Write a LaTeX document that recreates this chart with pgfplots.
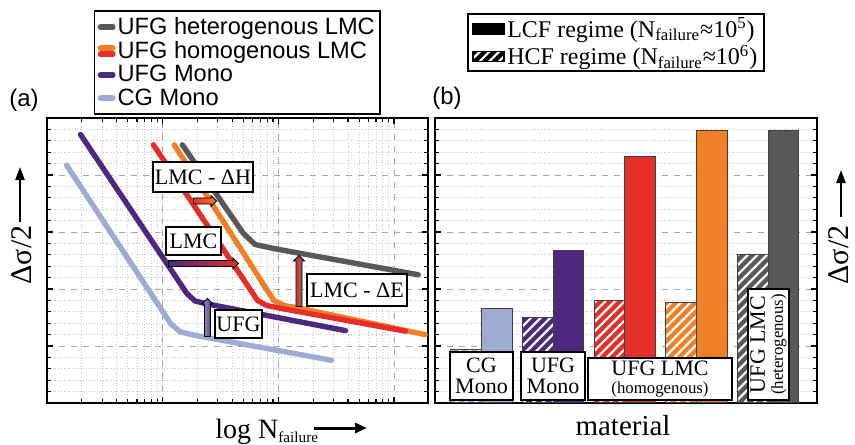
\documentclass[border=0pt]{standalone}
\usepackage{pgfplots}
\pgfplotsset{compat=1.18}
\usepackage{fontspec}
\setmainfont{Liberation Serif}
\newfontfamily\arialfont{Liberation Sans}
\usetikzlibrary{patterns.meta,shapes.arrows,arrows.meta}

\definecolor{cgray}{RGB}{88,88,88}
\definecolor{corange}{RGB}{240,128,40}
\definecolor{cred}{RGB}{228,46,42}
\definecolor{cpurple}{RGB}{78,40,124}
\definecolor{cblue}{RGB}{158,172,212}

\newcommand\fs[2]{\fontsize{#1bp}{#2bp}\selectfont}

\pgfplotsset{
  common/.style={scale only axis, height=142.5bp, ymin=0, ymax=5,
    ytick={0,...,5}, minor y tick num=4, yticklabels={},
    tick align=inside, major tick length=3bp, minor tick length=2bp,
    axis line style={line width=0.8bp},
    tick style={black, line width=0.6bp},
    major grid style={dashed, gray!70, line width=0.4bp},
    minor grid style={densely dotted, gray!45, line width=0.4bp}},
  lw/.style={line width=2.7bp, line cap=round, line join=round},
  sbar/.style={ybar, bar width=0.428, bar shift=0pt, fill=#1, draw=black!75, line width=0.5bp},
  hbar/.style={sbar=#1, postaction={pattern={Lines[angle=45,distance=3.4bp,line width=1.1bp]}, pattern color=white}},
}

\tikzset{
  box/.style={draw=black, fill=white, line width=0.6bp, inner sep=0.5bp},
  blk/.style={single arrow, draw=black, line width=0.4bp, inner xsep=0pt, inner ysep=1.3bp, single arrow head extend=1.2bp, single arrow head indent=0pt},
}

\begin{document}
\begin{tikzpicture}
\useasboundingbox (0,0) rectangle (427.5bp,-222.5bp);

% (a) S-N curves
\begin{axis}[common, at={(23.5bp,-59bp)}, anchor=north west, width=190.5bp,
  xmode=log, xmin=100, xmax=1.97e5, xticklabels={}, grid=both,
  legend style={at={(rel axis cs:0.123,1)}, anchor=south west, yshift=1.5bp,
    draw=black, line width=0.8bp, fill=white, font=\arialfont\fs{11.8}{13.3},
    inner xsep=1.5bp, inner ysep=2bp, row sep=0pt, nodes={inner sep=1bp}},
  legend cell align=left]
\addlegendimage{legend image code/.code={\draw[cgray, line width=3bp, line cap=round] (1.5bp,0bp) -- (7.5bp,0bp);}}
\addlegendentry{UFG heterogenous LMC}
\addlegendimage{legend image code/.code={\draw[corange, line width=3bp, line cap=round] (1.5bp,1.5bp) -- (7.5bp,1.5bp);
  \draw[cred, line width=3bp, line cap=round] (1.5bp,-1.5bp) -- (7.5bp,-1.5bp);}}
\addlegendentry{UFG homogenous LMC}
\addlegendimage{legend image code/.code={\draw[cpurple, line width=3bp, line cap=round] (1.5bp,0bp) -- (7.5bp,0bp);}}
\addlegendentry{UFG Mono}
\addlegendimage{legend image code/.code={\draw[cblue, line width=3bp, line cap=round] (1.5bp,0bp) -- (7.5bp,0bp);}}
\addlegendentry{CG Mono}

\addplot[cblue, lw] coordinates {(148,4.17) (1175,1.39) (1413,1.25) (1862,1.19) (28840,0.75)};
\addplot[cpurple, lw] coordinates {(195,4.71) (1622,1.92) (1905,1.79) (2399,1.74) (38019,1.27)};
\addplot[corange, lw] coordinates {(1259,4.53) (9120,1.80) (11220,1.71) (15488,1.66) (186209,1.20)};
\addplot[cred, lw] coordinates {(832,4.53) (6607,1.80) (7943,1.71) (11220,1.65) (125893,1.26)};
\addplot[cgray, lw] coordinates {(1479,4.53) (5012,2.97) (6310,2.78) (9120,2.71) (162181,2.25)};
\end{axis}

% (b) bars
\begin{axis}[common, at={(217.5bp,-59bp)}, anchor=north west, width=191bp,
  xmin=0.349, xmax=5.684, xtick=\empty, ymajorgrids, yminorgrids,
  legend style={at={(rel axis cs:0.085,1)}, anchor=south west, yshift=23bp,
    draw=black, line width=0.8bp, fill=white, font=\fs{12}{14},
    inner xsep=2bp, inner ysep=0.5bp, row sep=0pt, nodes={inner sep=1.2bp}},
  legend cell align=left]
\addlegendimage{legend image code/.code={\fill[black] (0bp,-2.5bp) rectangle (15.5bp,2.5bp);}}
\addlegendentry{LCF regime (N\textsubscript{failure}≈10\textsuperscript{5})\hspace{28bp}}
\addlegendimage{legend image code/.code={\fill[black, postaction={pattern={Lines[angle=45,distance=3.4bp,line width=1.1bp]}, pattern color=white}] (0bp,-2.5bp) rectangle (15.5bp,2.5bp);}}
\addlegendentry{HCF regime (N\textsubscript{failure}≈10\textsuperscript{6})\hspace{28bp}}

\addplot[hbar=cblue] coordinates {(0.786,0.94)};
\addplot[sbar=cblue] coordinates {(1.214,1.65)};
\addplot[hbar=cpurple] coordinates {(1.786,1.50)};
\addplot[sbar=cpurple] coordinates {(2.214,2.67)};
\addplot[hbar=cred] coordinates {(2.786,1.80)};
\addplot[sbar=cred] coordinates {(3.214,4.33)};
\addplot[hbar=corange] coordinates {(3.786,1.76)};
\addplot[sbar=corange] coordinates {(4.214,4.78)};
\addplot[hbar=cgray] coordinates {(4.786,2.60)};
\addplot[sbar=cgray] coordinates {(5.214,4.78)};
\end{axis}

% panel letters
\node[font=\arialfont\fs{12}{12}, inner sep=0pt] at (12bp,-50bp) {(a)};
\node[font=\arialfont\fs{12}{12}, inner sep=0pt] at (223.5bp,-49bp) {(b)};

% axis labels
\node[rotate=90, font=\fs{15}{15}, inner sep=0pt] at (11bp,-127.5bp) {Δσ/2};
\draw[line width=1.2bp, -{Triangle[length=6.5bp,width=4.5bp]}] (10bp,-111bp) -- (10bp,-83.5bp);
\node[rotate=90, font=\fs{15}{15}, inner sep=0pt] at (419.5bp,-127.5bp) {Δσ/2};
\draw[line width=1.2bp, -{Triangle[length=6.5bp,width=4.5bp]}] (420.5bp,-108.5bp) -- (420.5bp,-85bp);
\node[font=\fs{14}{14}, anchor=base west, inner sep=0pt] at (107.5bp,-219bp) {log N\raisebox{-2.2bp}{\fs{7.6}{8}failure}};
\draw[line width=1.5bp, -{Triangle[length=6bp,width=5bp]}] (157bp,-214bp) -- (183.5bp,-214bp);
\node[font=\fs{14.5}{14.5}, anchor=base, inner sep=0pt] at (311.5bp,-217.5bp) {material};

% annotations (a)
\node[box, minimum width=50bp, minimum height=15bp, font=\fs{11}{11}] at (101.5bp,-88.5bp) {LMC - ΔH};
\node[blk, minimum height=11.5bp, left color=cred, right color=corange] at (101.75bp,-100.5bp) {};
\node[box, minimum width=27.5bp, minimum height=14bp, font=\fs{11}{11}] at (96.75bp,-120.5bp) {LMC};
\node[blk, minimum height=35bp, left color=cpurple, right color=cred] at (101bp,-131.75bp) {};
\node[box, minimum width=50bp, minimum height=16bp, font=\fs{11}{11}] at (178.5bp,-145bp) {LMC - ΔE};
\node[blk, rotate=90, minimum height=25.5bp, left color=cred, right color={rgb,255:red,125;green,106;blue,96}] at (149.5bp,-141.25bp) {};
\node[box, minimum width=23.5bp, minimum height=14bp, font=\fs{11}{11}] at (119.25bp,-162bp) {UFG};
\node[blk, rotate=90, minimum height=19bp, left color={rgb,255:red,165;green,156;blue,204}, right color=cpurple] at (103.75bp,-159.5bp) {};

% annotations (b)
\node[box, minimum width=31.5bp, minimum height=24bp, align=center, font=\fs{11}{10.3}] at (240.75bp,-188bp) {CG\\Mono};
\node[box, minimum width=32bp, minimum height=24bp, align=center, font=\fs{11}{10.3}] at (276.5bp,-188bp) {UFG\\Mono};
\node[box, minimum width=72bp, minimum height=21bp, align=center, font=\fs{11}{9}] at (330bp,-189.5bp) {UFG LMC\\{\fs{8.4}{8}(homogenous)}};
\node[box, rotate=90, minimum width=55.5bp, minimum height=20.5bp, align=center, font=\fs{11}{9}] at (384.25bp,-172.25bp) {UFG LMC\\{\fs{8.4}{8}(heterogenous)}};
\end{tikzpicture}
\end{document}
